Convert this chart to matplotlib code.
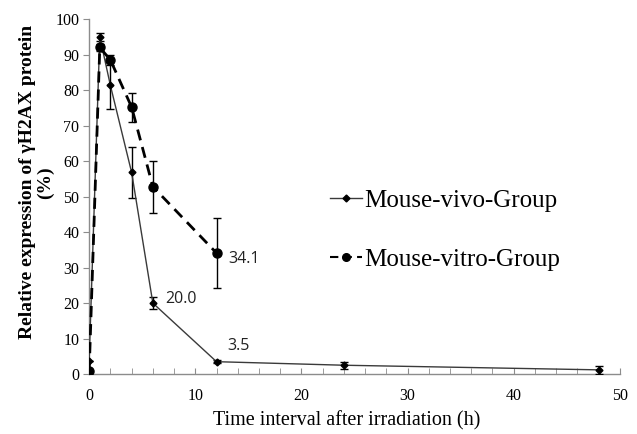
import matplotlib
matplotlib.use("Agg")
import matplotlib.pyplot as plt
from matplotlib.ticker import MultipleLocator
from matplotlib.lines import Line2D

# Data
vivo_t = [0, 1, 2, 4, 6, 12, 24, 48]
vivo_v = [3.8, 95.0, 81.3, 56.8, 20.0, 3.5, 2.5, 1.2]
vivo_e = [0.0, 1.2, 6.5, 7.2, 1.6, 0.4, 1.0, 1.1]

vitro_t = [0, 1, 2, 4, 6, 12]
vitro_v = [0.8, 92.0, 88.5, 75.2, 52.8, 34.1]
vitro_e = [0.0, 1.0, 1.3, 4.1, 7.3, 9.8]

labels = ["Mouse-vivo-Group", "Mouse-vitro-Group"]
ann = [(12, 34.1, "34.1"), (6, 20.0, "20.0"), (12, 3.5, "3.5")]

serif = ["Liberation Serif", "DejaVu Serif"]

fig = plt.figure(figsize=(6.37, 4.34), dpi=100)
ax = fig.add_axes([0.140, 0.138, 0.833, 0.818])

vivo_style = dict(color="#3a3a3a", lw=1.0, marker="D", markersize=3.5,
                  mfc="black", mec="black")
vitro_style = dict(color="black", lw=2.0, ls=(0, (4, 2.5)), marker="o",
                   markersize=6.5, mfc="black", mec="black")

ax.errorbar(vivo_t, vivo_v, yerr=vivo_e, ecolor="black", elinewidth=1.0,
            capsize=3, capthick=1.0, zorder=3, **vivo_style)
ax.errorbar(vitro_t, vitro_v, yerr=vitro_e, ecolor="black", elinewidth=1.0,
            capsize=3, capthick=1.0, zorder=4, **vitro_style)

offs = {"34.1": (8.5, -4), "20.0": (9, 3), "3.5": (7.5, 11)}
for x, y, s in ann:
    dx, dy = offs[s]
    ax.annotate(s, (x, y), xytext=(dx, dy), textcoords="offset points",
                fontsize=11.5, family=["Open Sans", "DejaVu Sans"], color="#222222",
                va="center", ha="left")

ax.set_xlim(0, 50)
ax.set_ylim(0, 100)
ax.xaxis.set_major_locator(MultipleLocator(10))
ax.xaxis.set_minor_locator(MultipleLocator(2))
ax.yaxis.set_major_locator(MultipleLocator(10))

for sp in ["top", "right"]:
    ax.spines[sp].set_visible(False)
for sp in ["left", "bottom"]:
    ax.spines[sp].set_color("#8c8c8c")
    ax.spines[sp].set_linewidth(1.0)

ax.tick_params(axis="x", which="both", direction="in", length=4, color="#8c8c8c", pad=10)
ax.tick_params(axis="y", direction="out", length=4, color="#8c8c8c", pad=3)
for lab in ax.get_xticklabels() + ax.get_yticklabels():
    lab.set_family(serif)
    lab.set_fontsize(11.5)

ax.set_xlabel("Time interval after irradiation (h)", family=serif, fontsize=14.5, labelpad=5)
ax.xaxis.label.set_x(0.486)
ax.set_ylabel("Relative expression of \u03b3H2AX protein\n(%)", family=serif,
              fontsize=14, fontweight="bold", labelpad=1, linespacing=1.05)
ax.yaxis.label.set_y(0.54)

handles = [Line2D([], [], **{**vivo_style, "markersize": 3.5}),
           Line2D([], [], **{**vitro_style, "lw": 1.5, "markersize": 5.5})]
ax.legend(handles, labels, loc="center left", bbox_to_anchor=(0.453, 0.405),
          frameon=False, prop={"family": serif, "size": 18}, handlelength=1.3,
          handletextpad=0.1, labelspacing=1.45, borderpad=0, borderaxespad=0)

fig.savefig("out.png", dpi=100)
